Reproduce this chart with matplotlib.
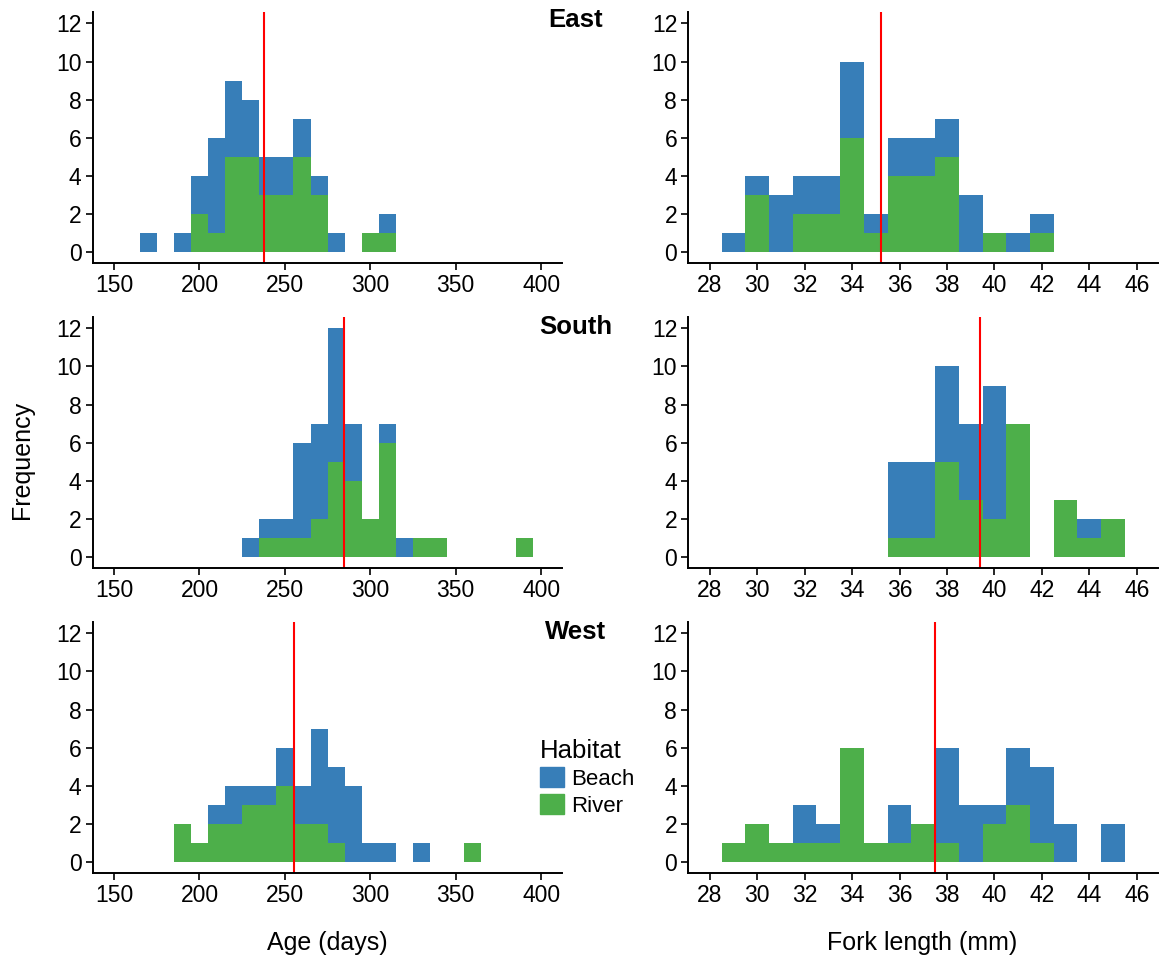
import matplotlib.pyplot as plt
import numpy as np
from matplotlib.patches import Patch

plt.rcParams['font.family'] = ['Liberation Sans', 'DejaVu Sans']

# bin centres (bin width 10 days / 1 mm)
age_centres = np.arange(170, 400, 10)
fl_centres = np.arange(29, 46, 1)

regions = ['East', 'South', 'West']

#                170 180 190 200 210 220 230 240 250 260 270 280 290 300 310 320 330 340 350 360 370 380 390
east_age_beach = [1, 0, 1, 2, 5, 4, 3, 2, 2, 2, 1, 1, 0, 0, 1, 0, 0, 0, 0, 0, 0, 0, 0]
east_age_river = [0, 0, 0, 2, 1, 5, 5, 3, 3, 5, 3, 0, 0, 1, 1, 0, 0, 0, 0, 0, 0, 0, 0]
south_age_beach = [0, 0, 0, 0, 0, 0, 1, 1, 1, 5, 5, 7, 3, 0, 1, 1, 0, 0, 0, 0, 0, 0, 0]
south_age_river = [0, 0, 0, 0, 0, 0, 0, 1, 1, 1, 2, 5, 4, 2, 6, 0, 1, 1, 0, 0, 0, 0, 1]
west_age_beach = [0, 0, 0, 0, 1, 2, 1, 1, 2, 2, 5, 4, 4, 1, 1, 0, 1, 0, 0, 0, 0, 0, 0]
west_age_river = [0, 0, 2, 1, 2, 2, 3, 3, 4, 2, 2, 1, 0, 0, 0, 0, 0, 0, 0, 1, 0, 0, 0]

#               29 30 31 32 33 34 35 36 37 38 39 40 41 42 43 44 45
east_fl_beach = [1, 1, 3, 2, 2, 4, 1, 2, 2, 2, 3, 0, 1, 1, 0, 0, 0]
east_fl_river = [0, 3, 0, 2, 2, 6, 1, 4, 4, 5, 0, 1, 0, 1, 0, 0, 0]
south_fl_beach = [0, 0, 0, 0, 0, 0, 0, 4, 4, 5, 4, 7, 0, 0, 0, 1, 0]
south_fl_river = [0, 0, 0, 0, 0, 0, 0, 1, 1, 5, 3, 2, 7, 0, 3, 1, 2]
west_fl_beach = [0, 0, 0, 2, 1, 0, 0, 2, 0, 5, 3, 1, 3, 4, 2, 0, 2]
west_fl_river = [1, 2, 1, 1, 1, 6, 1, 1, 2, 1, 0, 2, 3, 1, 0, 0, 0]

age_means = [237.5, 284.5, 255.6]
fl_means = [35.2, 39.4, 37.5]

age_data = [(east_age_beach, east_age_river), (south_age_beach, south_age_river),
            (west_age_beach, west_age_river)]
fl_data = [(east_fl_beach, east_fl_river), (south_fl_beach, south_fl_river),
           (west_fl_beach, west_fl_river)]

beach_col = '#377EB8'
river_col = '#4DAF4A'

fig = plt.figure(figsize=(11.6, 9.6), dpi=100)

lefts = [0.0799, 0.5934]
width = 0.405
bottoms = [0.7257, 0.408, 0.0903]
height = 0.2618
title_y = [20, 327, 632]  # pixels from top


def style(ax):
    for s in ['top', 'right']:
        ax.spines[s].set_visible(False)
    for s in ['left', 'bottom']:
        ax.spines[s].set_linewidth(1.4)
    ax.tick_params(labelsize=16.5, width=1.2, length=5, colors='black', pad=3)
    ax.set_ylim(-0.6, 12.6)
    ax.set_yticks([0, 2, 4, 6, 8, 10, 12])


for i, r in enumerate(regions):
    # age panel
    ax = fig.add_axes([lefts[0], bottoms[i], width, height])
    beach, river = age_data[i]
    ax.bar(age_centres, river, width=10, color=river_col, linewidth=0)
    ax.bar(age_centres, beach, width=10, bottom=river, color=beach_col, linewidth=0)
    ax.axvline(age_means[i], color='red', lw=1.5)
    ax.set_xlim(137.5, 412.5)
    ax.set_xticks([150, 200, 250, 300, 350, 400])
    style(ax)

    # fork length panel
    ax = fig.add_axes([lefts[1], bottoms[i], width, height])
    beach, river = fl_data[i]
    ax.bar(fl_centres, river, width=1, color=river_col, linewidth=0)
    ax.bar(fl_centres, beach, width=1, bottom=river, color=beach_col, linewidth=0)
    ax.axvline(fl_means[i], color='red', lw=1.5)
    ax.set_xlim(27.1, 46.9)
    ax.set_xticks(np.arange(28, 47, 2))
    style(ax)

    fig.text(576 / 1160, 1 - title_y[i] / 960, r,
             fontsize=18.5, fontweight='bold', ha='center', va='center')

fig.text(327 / 1160, 1 - 943 / 960, 'Age (days)', fontsize=18, ha='center', va='center')
fig.text(922 / 1160, 1 - 943 / 960, 'Fork length (mm)', fontsize=18, ha='center', va='center')
fig.text(22 / 1160, 1 - 460 / 960, 'Frequency', fontsize=18, ha='center', va='center',
         rotation=90)

handles = [Patch(color=beach_col, label='Beach'), Patch(color=river_col, label='River')]
leg = fig.legend(handles=handles, title='Habitat', loc='upper left',
                 bbox_to_anchor=(524 / 1160, 1 - 723 / 960), frameon=False,
                 fontsize=16, title_fontsize=18.5, handlelength=1.1, handleheight=1.0,
                 handletextpad=0.3, labelspacing=0.2, borderpad=0.2)
leg._legend_box.align = 'left'

fig.savefig('out.png', dpi=100)
